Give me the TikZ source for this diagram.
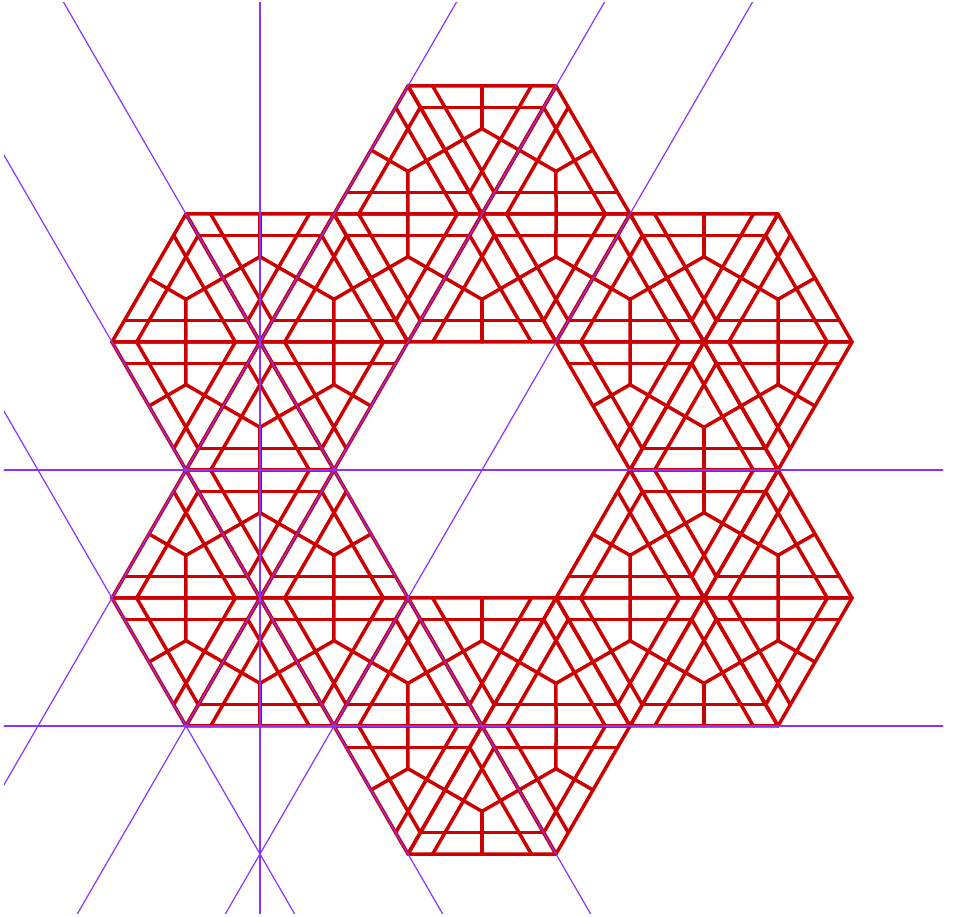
\documentclass[tikz,border=0pt]{standalone}
\usepackage{tikz}
\usetikzlibrary{calc}

\definecolor{tilered}{RGB}{204,0,0}
\definecolor{mirrorviolet}{RGB}{140,50,255}

% one triangular cell: its edges, three chords and three spokes
\newcommand{\cellpattern}[3]{%
  \coordinate (pA) at (#1);
  \coordinate (pB) at (#2);
  \coordinate (pC) at (#3);
  \coordinate (pG) at ($(pA)!2/3!($(pB)!0.5!(pC)$)$);
  \draw[cell] (pA) -- (pB) -- (pC) -- cycle;
  \draw[cell] ($(pB)!1/6!(pA)$) -- ($(pC)!1/6!(pA)$);
  \draw[cell] ($(pC)!1/6!(pB)$) -- ($(pA)!1/6!(pB)$);
  \draw[cell] ($(pA)!1/6!(pC)$) -- ($(pB)!1/6!(pC)$);
  \foreach \p/\q in {pA/pB, pB/pC, pC/pA}
    \draw[cell] (pG) -- ($(\p)!0.5!(\q)$);
}

\begin{document}
\begin{tikzpicture}[
      x={(148pt,0pt)},     % lattice step along a row
      y={(74pt,128pt)},    % lattice step up to the right
      cell/.style={line width=3.5pt, tilered, line cap=round, line join=round},
      mirror/.style={line width=1.2pt, mirrorviolet},
    ]
    \useasboundingbox (-482pt,-447pt) rectangle (471pt,470pt);

    % ---- ring of six hexagons ------------------------------------------
    \foreach \cx/\cy in {1/1, -1/2, -2/1, -1/-1, 1/-2, 2/-1}{%
      \foreach \ai/\aj/\bi/\bj in {1/0/0/1, 0/1/-1/1, -1/1/-1/0,
                                   -1/0/0/-1, 0/-1/1/-1, 1/-1/1/0}{%
        \cellpattern{\cx,\cy}{\cx+\ai,\cy+\aj}{\cx+\bi,\cy+\bj}
      }
    }

    % ---- mirror lines ---------------------------------------------------
    \begin{scope}
      \clip (-478pt,-443pt) rectangle (461pt,467pt);
      \foreach \i in {0,-1,-2}
        \draw[mirror] (\i,-6) -- (\i,6);
      \foreach \j in {0,-2}
        \draw[mirror] (-8,\j) -- (8,\j);
      \foreach \k in {-1,-2,-3}
        \draw[mirror] (\k+6,-6) -- (\k-6,6);
      \draw[mirror] (-6,9) -- (2,-7);
    \end{scope}
  \end{tikzpicture}
\end{document}
